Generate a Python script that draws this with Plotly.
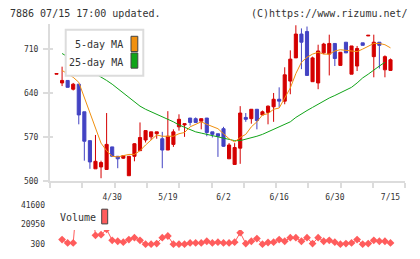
import plotly.graph_objects as go

# ---------------- data ----------------
idx = list(range(61))

opens = [670, 656, 660, 646, 654, 610, 564, 519, 522, 518,
         554, 539, 536, 508, 539, 548, 565, 570, 575, 567,
         549, 558, 586, 589, 600, 599, 595, 600, 578, 575,
         583, 535, 526, 552, 601, 599, 614, 605, 609, 618,
         630, 627, 659, 696, 734, 738, 658, 656, 704, 702,
         719, 684, 721, 670, 683, 720, 731, 698, 721, 677, 676]
highs = [671, 682, 660, 656, 654, 610, 564, 573, 532, 608,
         554, 539, 540, 539, 560, 593, 580, 578, 578, 578,
         611, 582, 606, 591, 600, 601, 599, 600, 578, 575,
         586, 560, 560, 619, 608, 614, 614, 612, 620, 640,
         649, 681, 708, 748, 743, 746, 698, 717, 720, 733,
         719, 705, 721, 715, 715, 720, 732, 733, 721, 700, 695]
lows = [670, 651, 649, 644, 590, 532, 519, 519, 504, 518,
        539, 520, 535, 508, 531, 548, 561, 565, 567, 520,
        549, 554, 580, 570, 588, 593, 582, 571, 569, 538,
        554, 535, 526, 527, 594, 591, 582, 605, 590, 594,
        617, 622, 638, 696, 678, 668, 658, 646, 702, 668,
        683, 684, 704, 670, 675, 716, 731, 665, 679, 665, 676]
closes = [671, 660, 649, 654, 605, 563, 530, 531, 529, 558,
          539, 535, 540, 539, 559, 569, 580, 578, 578, 549,
          571, 578, 598, 591, 593, 593, 599, 577, 574, 571,
          555, 557, 553, 608, 598, 614, 596, 610, 619, 630,
          627, 669, 694, 734, 721, 668, 696, 707, 718, 719,
          695, 705, 704, 715, 711, 716, 732, 721, 716, 698, 693]

ma5 = [None, 676, 671, 665, 657, 632, 607, 582, 560, 548,
       539, 538, 540, 542, 542, 548, 557, 565, 573, 571,
       571, 571, 575, 577, 586, 590, 594, 590, 587, 583,
       575, 567, 562, 569, 574, 586, 594, 605, 607, 614,
       616, 631, 648, 671, 689, 697, 702, 705, 702, 702,
       707, 709, 708, 708, 706, 710, 715, 719, 719, 717, 712]
ma25 = [None, 703, 698, 693, 687, 682, 676, 671, 665, 660,
        654, 647, 639, 632, 625, 619, 614, 610, 607, 603,
        599, 594, 589, 585, 581, 578, 576, 574, 571, 569,
        567, 565, 564, 564, 566, 568, 571, 574, 578, 581,
        585, 589, 594, 601, 607, 612, 617, 622, 628, 632,
        636, 640, 644, 649, 656, 664, 670, 677, 683, 689, None]

volume = [None, 5200, 1600, 1600, 70000, 90000, 60000, 9600, 10300, 16000,
          4400, 3400, 2400, 5200, 7200, 4400, 300, 300, 1000, 7200,
          8900, 300, 300, 300, 1600, 1600, 1600, 3400, 1600, 2400,
          1600, 1600, 2400, 12400, 1000, 3400, 6200, 300, 2100, 2400,
          5200, 3400, 7200, 7200, 3400, 7200, 1000, 7200, 3400, 4400,
          2400, 300, 1000, 1600, 5200, 300, 1000, 4400, 3400, 3400, 1600]

price_ticks = [500, 570, 640, 710]
vol_ticks = [300, 20950, 41600]
vol_tick_text = ["300", "20950", "41600"]
date_pos = [10, 20, 30, 40, 50, 60]
date_labels = ["4/30", "5/19", "6/2", "6/16", "6/30", "7/15"]

# ---------------- styling ----------------
W, H = 420, 259
RED = "#d40000"
BLUE = "#4343c3"
ORANGE = "#f0900f"
GREEN = "#10a418"
VOLC = "#ff5c5c"
AXC = "#dcdcdc"
TXT = "#333333"
MONO = "DejaVu Sans Mono"


def fx(p):
    return p / W


def fy(p):
    return (H - p) / H


fig = go.Figure()

# empty traces so the label-only axes are drawn (added first = drawn below)
fig.add_trace(go.Scatter(x=[], y=[], xaxis="x", yaxis="y3",
                         hoverinfo="skip", showlegend=False))
fig.add_trace(go.Scatter(x=[], y=[], xaxis="x", yaxis="y4",
                         hoverinfo="skip", showlegend=False))

fig.add_trace(go.Candlestick(
    x=idx, open=opens, high=highs, low=lows, close=closes,
    increasing=dict(line=dict(color=RED, width=1), fillcolor=RED),
    decreasing=dict(line=dict(color=BLUE, width=1), fillcolor=BLUE),
    whiskerwidth=0, hoverinfo="skip", showlegend=False,
    xaxis="x", yaxis="y"))

fig.add_trace(go.Scatter(x=idx, y=ma25, mode="lines",
                         line=dict(color=GREEN, width=1),
                         hoverinfo="skip", showlegend=False,
                         xaxis="x", yaxis="y"))
fig.add_trace(go.Scatter(x=idx, y=ma5, mode="lines",
                         line=dict(color=ORANGE, width=1),
                         hoverinfo="skip", showlegend=False,
                         xaxis="x", yaxis="y"))

fig.add_trace(go.Scatter(x=idx, y=volume, mode="lines+markers",
                         line=dict(color=VOLC, width=1),
                         marker=dict(symbol="diamond", size=6, color=VOLC),
                         connectgaps=False, cliponaxis=True,
                         hoverinfo="skip", showlegend=False,
                         xaxis="x", yaxis="y2"))

x_lo = -1.17
x_hi = 62.66

fig.update_layout(
    width=W, height=H,
    margin=dict(l=0, r=0, t=0, b=0),
    paper_bgcolor="white", plot_bgcolor="rgba(0,0,0,0)",
    boxgap=0.2,
    showlegend=False,
    font=dict(family=MONO, size=8, color=TXT),
    xaxis=dict(
        domain=[fx(50), fx(405.3)], range=[x_lo, x_hi], anchor="y",
        showgrid=False, zeroline=False,
        showline=True, linecolor=AXC, linewidth=2,
        rangeslider=dict(visible=False),
        tickmode="array", tickvals=date_pos, ticktext=date_labels,
        ticks="", ticklabelstandoff=8,
        tickfont=dict(family=MONO, size=8, color=TXT),
        minor=dict(ticks="outside", tickmode="linear", tick0=x_lo,
                   dtick=(x_hi - x_lo) / 11, ticklen=5, tickwidth=1.5,
                   tickcolor=AXC, showgrid=False),
    ),
    yaxis=dict(
        domain=[fy(184.3), fy(24.5)], range=[500, 750], anchor="x",
        showgrid=False, zeroline=False,
        showline=True, linecolor=AXC, linewidth=2,
        tickmode="array", tickvals=price_ticks,
        ticks="outside", ticklen=5, tickwidth=1.5, tickcolor=AXC,
        ticklabelstandoff=3,
        tickfont=dict(family=MONO, size=8, color=TXT),
    ),
    yaxis4=dict(
        overlaying="y", range=[500, 750], anchor="x", side="left",
        showgrid=False, zeroline=False, showline=False,
        tickmode="array", tickvals=price_ticks,
        ticks="inside", ticklen=3, tickwidth=1.5, tickcolor=AXC,
        showticklabels=False,
    ),
    yaxis2=dict(
        domain=[fy(255), fy(234.5)], range=[-5895, 15271], anchor="x",
        showgrid=False, zeroline=False, showline=False,
        showticklabels=False, ticks="",
    ),
    yaxis3=dict(
        domain=[fy(255), fy(205)], range=[-5895, 45730], anchor="x",
        showgrid=False, zeroline=False, showline=False,
        tickmode="array", tickvals=vol_ticks, ticktext=vol_tick_text,
        ticks="", ticklabelstandoff=4,
        tickfont=dict(family=MONO, size=8, color=TXT),
    ),
)

shapes = []
# MA legend box
shapes.append(dict(type="rect", xref="paper", yref="paper", layer="above",
                   x0=fx(65.7), x1=fx(143.3), y0=fy(77.3), y1=fy(30.3),
                   fillcolor="white", line=dict(color=AXC, width=2)))
shapes.append(dict(type="rect", xref="paper", yref="paper", layer="above",
                   x0=fx(131), x1=fx(137.8), y0=fy(52.5), y1=fy(37),
                   fillcolor=ORANGE, line=dict(color="#444444", width=1)))
shapes.append(dict(type="rect", xref="paper", yref="paper", layer="above",
                   x0=fx(131), x1=fx(137.8), y0=fy(69.5), y1=fy(54),
                   fillcolor=GREEN, line=dict(color="#444444", width=1)))
# volume legend swatch
shapes.append(dict(type="rect", xref="paper", yref="paper", layer="above",
                   x0=fx(101.7), x1=fx(107.7), y0=fy(228.3), y1=fy(213.3),
                   fillcolor=VOLC, line=dict(color="#444444", width=1)))
fig.update_layout(shapes=shapes)

annots = [
    dict(text="7886 07/15 17:00 updated.", x=fx(7.5), y=fy(13.3),
         xanchor="left", yanchor="middle"),
    dict(text="(C)https://www.rizumu.net/", x=fx(410), y=fy(13.3),
         xanchor="right", yanchor="middle"),
    dict(text="5-day MA", x=fx(125), y=fy(45), xanchor="right", yanchor="middle"),
    dict(text="25-day MA", x=fx(125), y=fy(63.3), xanchor="right", yanchor="middle"),
    dict(text="Volume", x=fx(57.5), y=fy(221.7), xanchor="left", yanchor="middle"),
]
for a in annots:
    a.update(xref="paper", yref="paper", showarrow=False,
             font=dict(family=MONO, size=10, color=TXT))
fig.update_layout(annotations=annots)

fig.write_html("out.html")
